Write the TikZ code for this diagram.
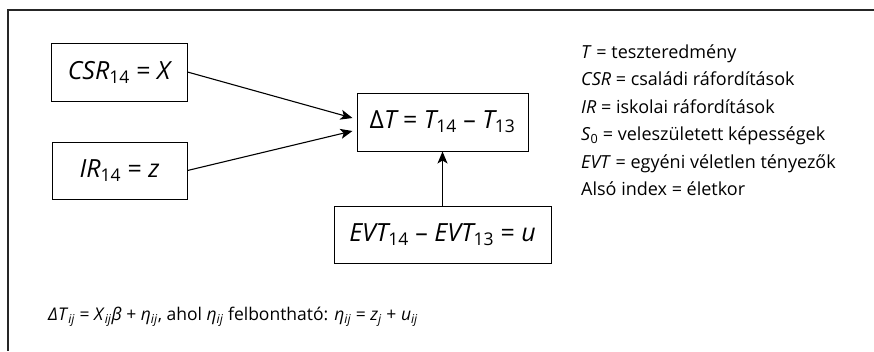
\documentclass[tikz,border=0pt]{standalone}
\usepackage{fontspec}
\setmainfont{Open Sans}
\usetikzlibrary{arrows.meta}
\newcommand{\lsub}[1]{\textsubscript{#1}}
\newcommand{\up}[1]{{\upshape #1}}
\begin{document}
\begin{tikzpicture}[x=1pt,y=-1pt,
  box/.style={draw=black,line width=1pt,inner sep=0pt,font=\fontsize{25}{29}\selectfont},
  conn/.style={line width=1.1pt,-{Stealth[length=12pt,width=10pt,inset=3pt]}},
  legend/.style={anchor=base west,inner sep=0pt,font=\fontsize{18}{22}\selectfont},
  formula/.style={anchor=base west,inner sep=0pt,font=\fontsize{17.5}{21}\selectfont},
  frame/.style={line width=1.2pt,draw=black!85}]
\useasboundingbox (0,0) rectangle (874,351);
\draw[frame] (874,10) -- (8,10) -- (8,351);
\node[box,minimum width=136pt,minimum height=58pt] (csr) at (119,72) {\itshape CSR\lsub{\up{14}}\up{ = }X};
\node[box,minimum width=135pt,minimum height=57pt] (ir) at (119.5,170.5) {\itshape IR\lsub{\up{14}}\up{ = }z};
\node[box,minimum width=171pt,minimum height=58pt] (dt) at (442.5,122) {\itshape \up{Δ}T\up{ = }T\lsub{\up{14}}\up{ – }T\lsub{\up{13}}};
\node[box,minimum width=217pt,minimum height=57pt] (evt) at (442.5,234.5) {\itshape EVT\lsub{\up{14}}\up{ – }EVT\lsub{\up{13}}\up{ = }u};
\draw[conn] (csr.east) -- ([shift={(-4,-4)}]dt.west);
\draw[conn] (ir.east) -- ([shift={(-4,9)}]dt.west);
\draw[conn] (evt.north) -- (dt.south);
\node[legend] (l1) at (581,58) {\textit{T} = teszteredmény};
\node[legend] (l2) at (581,85.5) {\textit{CSR} = családi ráfordítások};
\node[legend] (l3) at (581,113) {\textit{IR} = iskolai ráfordítások};
\node[legend] (l4) at (581,140.5) {\textit{S}\lsub{0} = veleszületett képességek};
\node[legend] (l5) at (581,168) {\textit{EVT} = egyéni véletlen tényezők};
\node[legend] (l6) at (581,195.5) {Alsó index = életkor};
\node[formula] (f) at (48,320) {\textit{ΔT}\lsub{\textit{ij}} = \textit{X}\lsub{\textit{ij}}\textit{β} + \textit{η}\lsub{\textit{ij}}, ahol \textit{η}\lsub{\textit{ij}} felbontható: \textit{η}\lsub{\textit{ij}} = \textit{z}\lsub{\textit{j}} + \textit{u}\lsub{\textit{ij}}};
\end{tikzpicture}
\end{document}
